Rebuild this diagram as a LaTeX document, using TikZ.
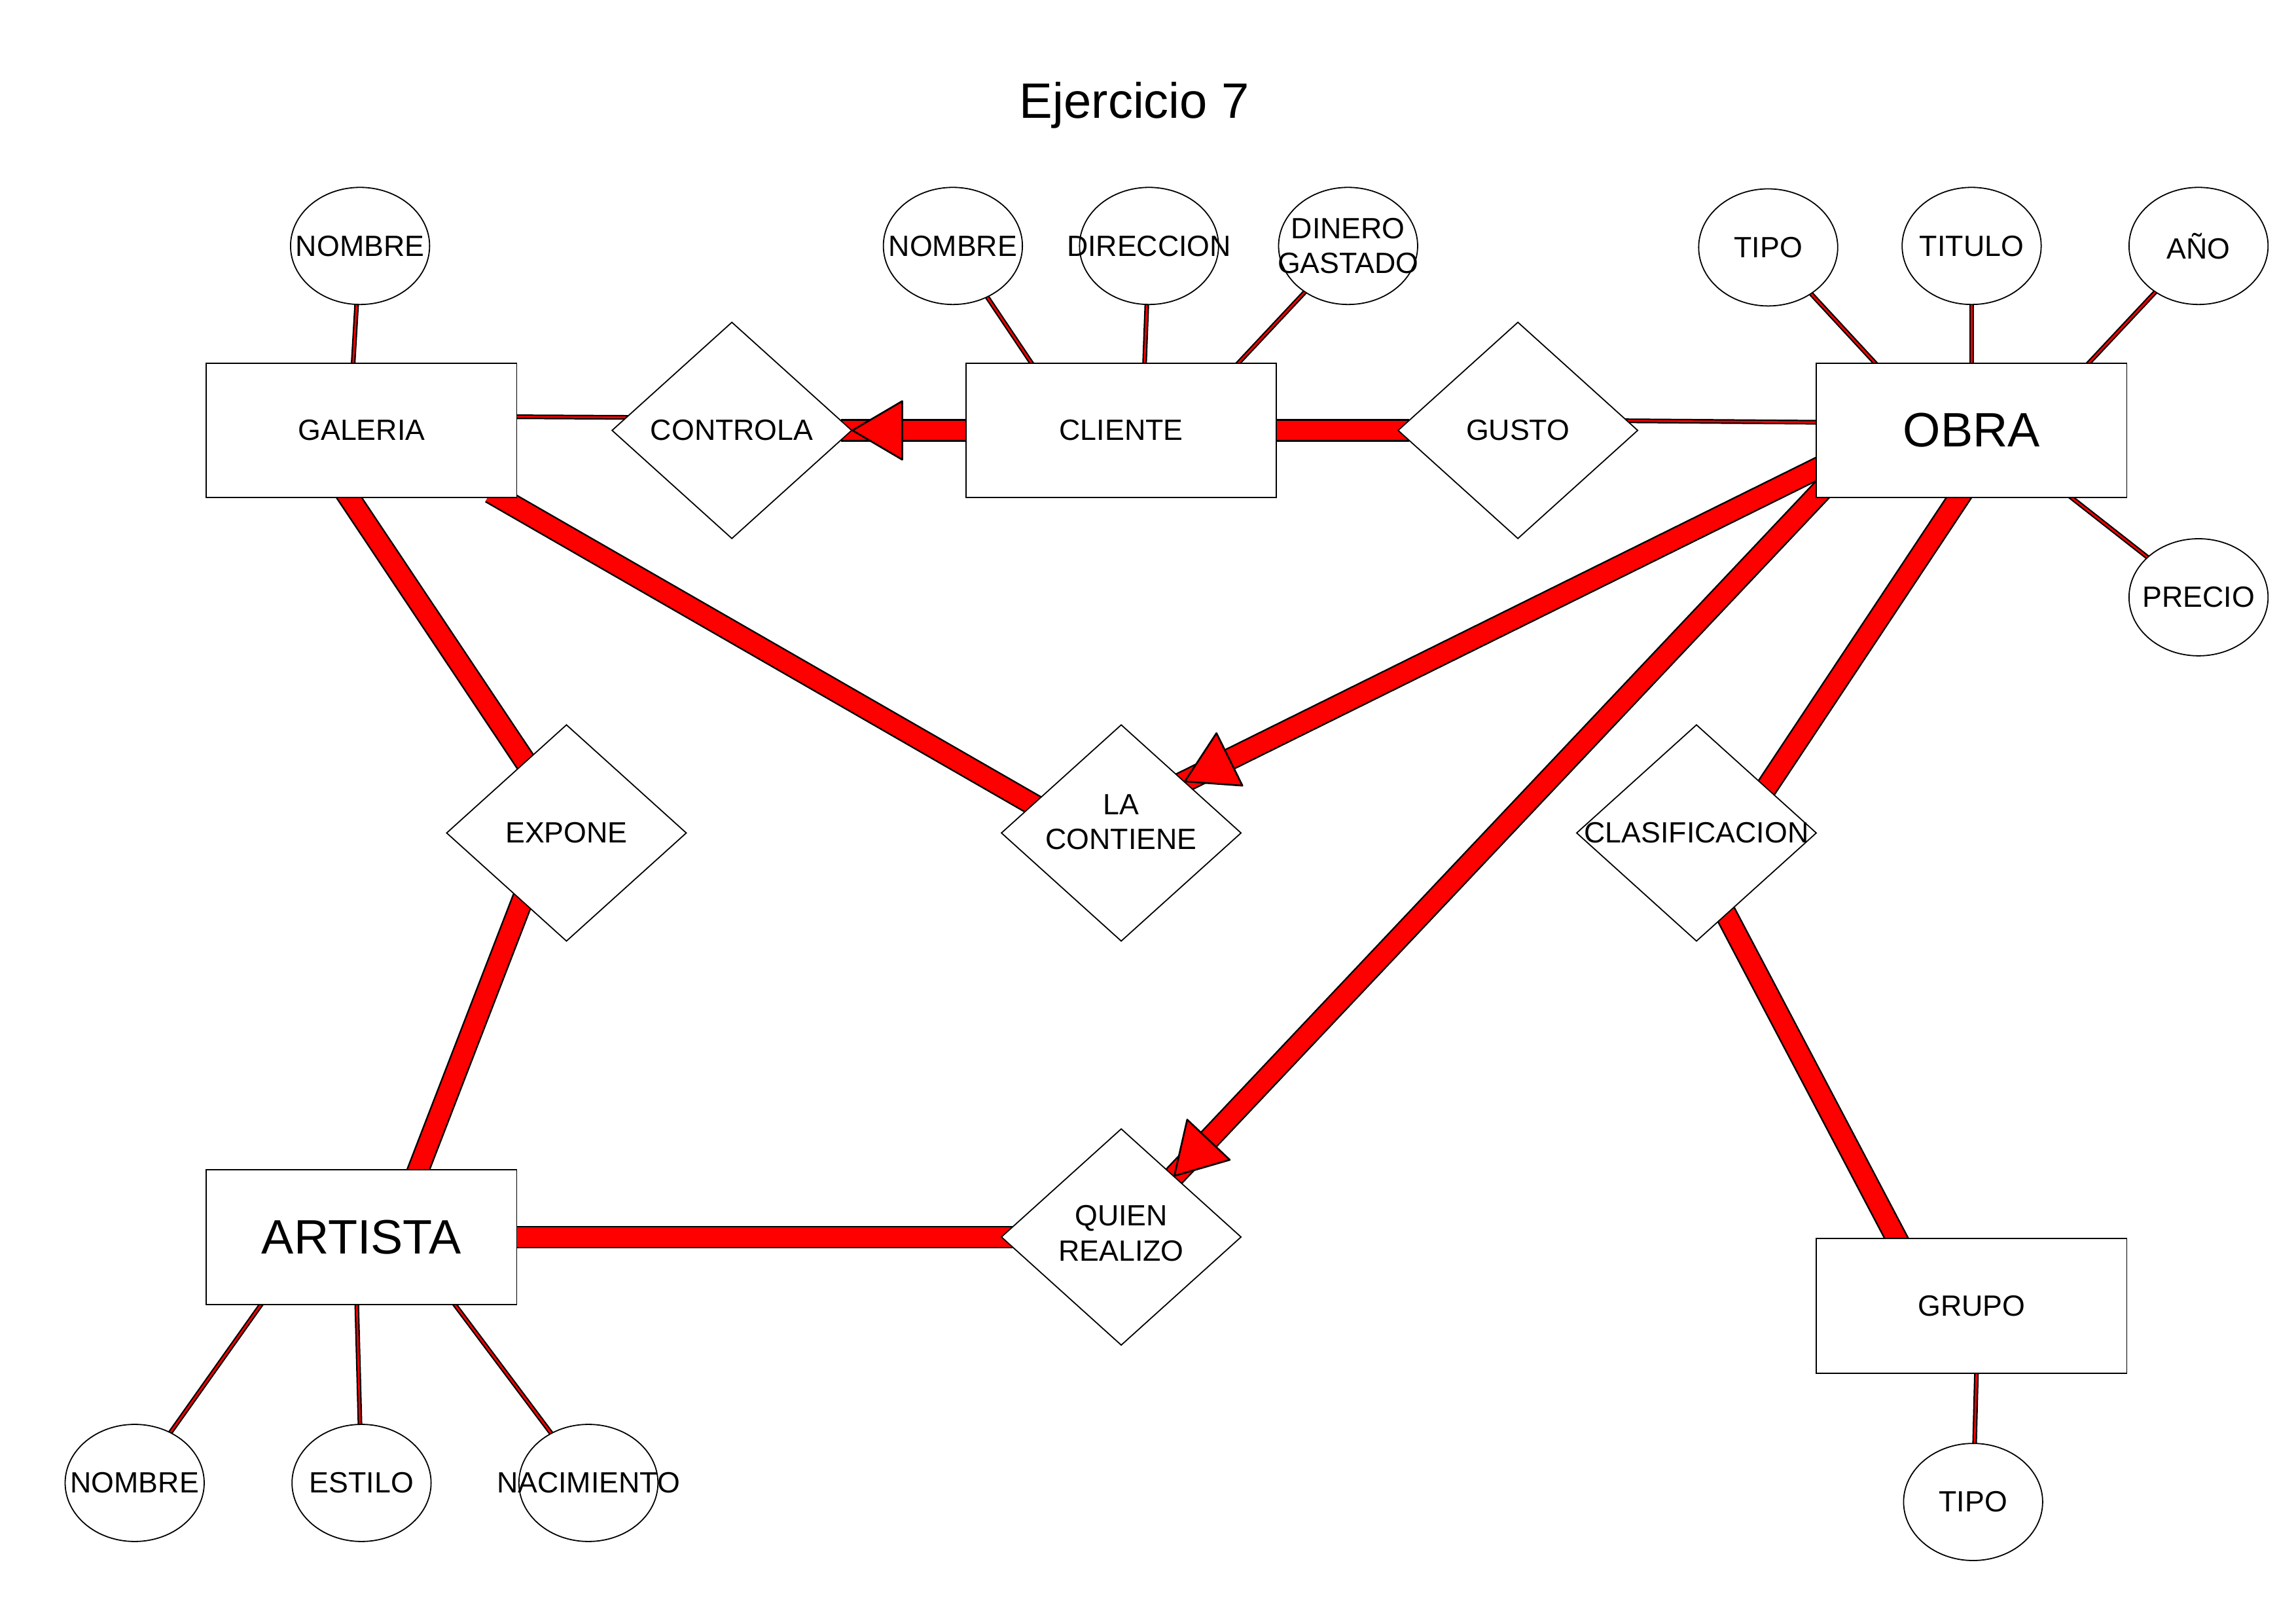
\documentclass[tikz,border=0pt]{standalone}
\usepackage{fontspec}
\setmainfont{Liberation Sans}
\usetikzlibrary{shapes.geometric,decorations.markings,backgrounds}
\tikzset{
  ent/.style={draw,fill=white,line width=0.4pt,minimum width=106pt,minimum height=46pt,inner sep=0pt},
  rel/.style={diamond,draw,fill=white,line width=0.4pt,minimum width=82pt,minimum height=74pt,inner sep=0pt,label={[align=center]center:#1}},
  attr/.style={ellipse,draw,fill=white,line width=0.4pt,minimum width=47.5pt,minimum height=40pt,inner sep=0pt,label={[align=center]center:#1}},
  banda/.style={draw=black,line width=0.55pt,double=red,double distance=6.6pt,shorten <=-4pt,shorten >=-4pt},
  hilo/.style={draw=black,line width=0.5pt,double=red,double distance=0.6pt,shorten <=-2pt,shorten >=-2pt},
  punta/.style={postaction={decorate},decoration={markings,mark=at position 1 with {\filldraw[fill=red,draw=black,line width=0.6pt,line join=round] (0,0)--(-17pt,10pt)--(-17pt,-10pt)--cycle;}}}
}
\begin{document}
\begin{tikzpicture}[x=0.5pt,y=-0.5pt,font=\fontsize{10}{12}\selectfont]
\useasboundingbox (0,0) rectangle (1568.6,1109);
\node (titulo) at (775,72) {\fontsize{17}{20}\selectfont Ejercicio 7};
\node[ent] (galeria) at (247,294) {GALERIA};
\node[ent] (cliente) at (766,294) {CLIENTE};
\node[ent,font=\fontsize{16.5}{20}\selectfont] (obra) at (1347,294) {OBRA};
\node[ent,font=\fontsize{16.5}{20}\selectfont] (artista) at (247,845) {ARTISTA};
\node[ent] (grupo) at (1347,892) {GRUPO};
\node[rel=CONTROLA] (controla) at (500,294) {};
\node[rel=GUSTO] (gusto) at (1037,294) {};
\node[rel=EXPONE] (expone) at (387,569) {};
\node[rel={},label={[align=center,yshift=3.7pt]center:LA\\CONTIENE}] (contiene) at (766,569) {};
\node[rel=CLASIFICACION] (clasif) at (1159,569) {};
\node[rel={},label={[align=center,yshift=1.3pt]center:QUIEN\\REALIZO}] (quien) at (766,845) {};
\node[attr=NOMBRE] (gnombre) at (246,168) {};
\node[attr=NOMBRE] (cnombre) at (651,168) {};
\node[attr=DIRECCION] (cdireccion) at (785,168) {};
\node[attr={DINERO\\GASTADO}] (cdinero) at (921,168) {};
\node[attr=TIPO] (otipo) at (1208,169) {};
\node[attr=TITULO] (otitulo) at (1347,168) {};
\node[attr=AÑO] (oano) at (1502,168) {};
\node[attr=PRECIO] (oprecio) at (1502,408) {};
\node[attr=NOMBRE] (anombre) at (92,1013) {};
\node[attr=ESTILO] (aestilo) at (247,1013) {};
\node[attr=NACIMIENTO] (anacimiento) at (402,1013) {};
\node[attr=TIPO] (gtipo) at (1348,1026) {};
\begin{scope}[on background layer]
\draw[hilo] (gnombre) -- (galeria.97);
\draw[hilo] (cnombre) -- (cliente.143);
\draw[hilo] (cdireccion) -- (cliente.71);
\draw[hilo] (cdinero) -- (cliente.30);
\draw[hilo] (otipo) -- (obra.145);
\draw[hilo] (otitulo) -- (obra.north);
\draw[hilo] (oano) -- (obra.30);
\draw[hilo] (oprecio) -- (obra.-34);
\draw[hilo] (anombre) -- (artista.214);
\draw[hilo] (aestilo) -- (artista.266);
\draw[hilo] (anacimiento) -- (artista.-36);
\draw[hilo] (gtipo) -- (grupo.274);
\draw[hilo] (galeria.5) -- (controla.173);
\draw[hilo] (gusto.5) -- (obra.177);
\draw[banda] (cliente.west) -- (controla.east);
\draw[banda] (cliente.east) -- (gusto.west);
\draw[banda] (galeria.260) -- (expone.120);
\draw[banda] (expone.237) -- (artista.50);
\draw[banda] (galeria.-26) -- (contiene.162);
\draw[banda] (obra.194) -- (contiene.39);
\draw[banda] (obra.203) -- (quien.49);
\draw[banda] (obra.259) -- (clasif.33);
\draw[banda] (clasif.290) -- (grupo.138);
\draw[banda] (artista.east) -- (quien.west);
\end{scope}
\path[punta] (cliente.west) -- (controla.east);
\path[punta] (obra.194) -- (contiene.39);
\path[punta] (obra.203) -- (quien.49);
\end{tikzpicture}
\end{document}
